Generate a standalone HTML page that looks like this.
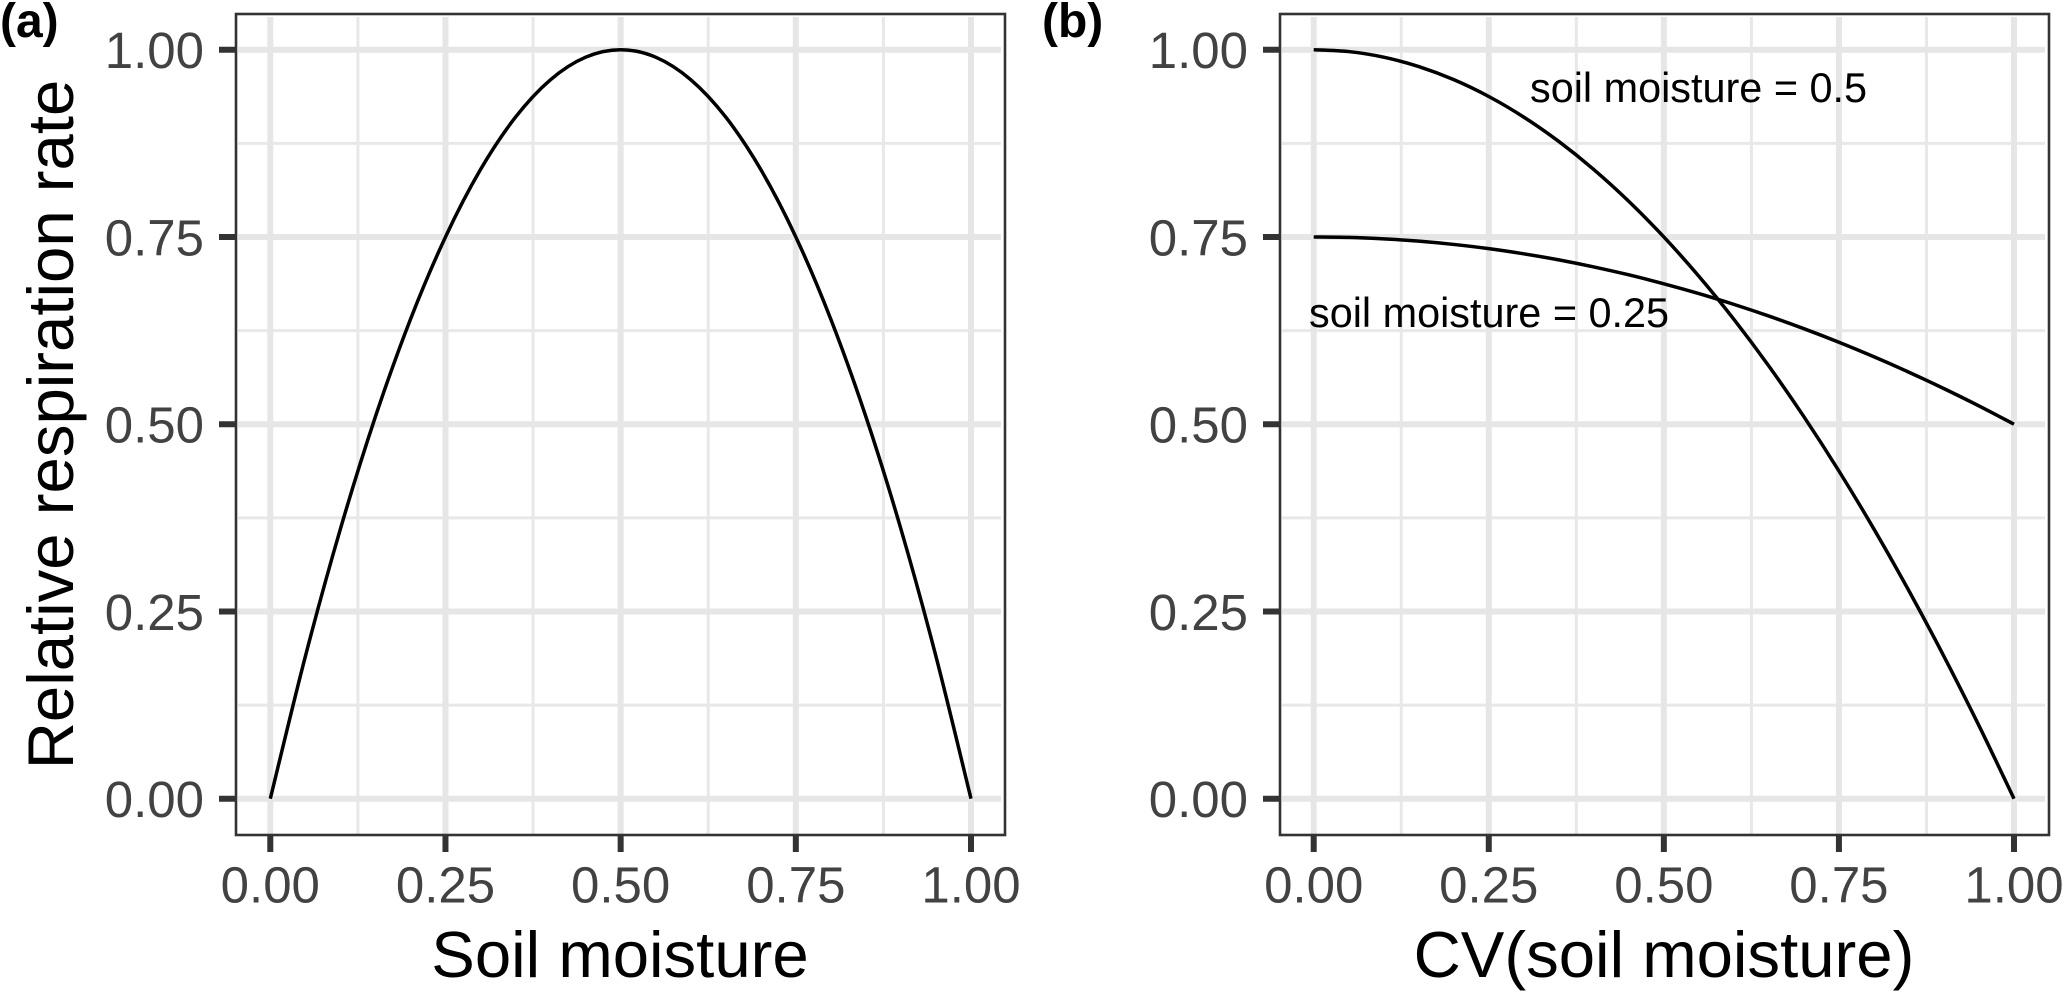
<!DOCTYPE html>
<html lang="en">
<head>
<meta charset="utf-8">
<title>Relative respiration rate</title>
<style>
html,body{margin:0;padding:0;background:#fff;width:2068px;height:996px;overflow:hidden}
svg{display:block;font-family:"Liberation Sans",Arial,sans-serif}
.tick-label{font-size:51px;fill:#424242}
.axis-title{font-size:65.3px;fill:#000}
.note{font-size:41.4px;fill:#000}
.tag{font-size:48px;font-weight:bold;fill:#000}
</style>
</head>
<body>
<svg id="chart" width="2068" height="996" viewBox="0 0 2068 996" xmlns="http://www.w3.org/2000/svg">
  <rect width="2068" height="996" fill="#ffffff"/>
  <g id="panel-a"></g>
  <g id="panel-b"></g>
  <text class="tag" x="0" y="37">(a)</text>
  <text class="tag" x="1042" y="37">(b)</text>
  <text class="axis-title" text-anchor="middle" transform="translate(73,424.5) rotate(-90)">Relative respiration rate</text>
  <text class="axis-title" text-anchor="middle" x="620" y="977">Soil moisture</text>
  <text class="axis-title" text-anchor="middle" x="1664" y="977">CV(soil moisture)</text>
  <text class="note" x="1530" y="102">soil moisture = 0.5</text>
  <text class="note" x="1309" y="327">soil moisture = 0.25</text>
</svg>
<script>
const xTicks = [0, 0.25, 0.5, 0.75, 1];
const yTicks = [0, 0.25, 0.5, 0.75, 1];
const xMinor = [0.125, 0.375, 0.625, 0.875];
const yMinor = [0.125, 0.375, 0.625, 0.875];
const tickLabels = ['0.00', '0.25', '0.50', '0.75', '1.00'];

const sampleX = [0, 0.05, 0.1, 0.15, 0.2, 0.25, 0.3, 0.35, 0.4, 0.45, 0.5, 0.55, 0.6, 0.65, 0.7, 0.75, 0.8, 0.85, 0.9, 0.95, 1];
const respirationVsMoisture = [0, 0.19, 0.36, 0.51, 0.64, 0.75, 0.84, 0.91, 0.96, 0.99, 1, 0.99, 0.96, 0.91, 0.84, 0.75, 0.64, 0.51, 0.36, 0.19, 0];
const respirationCvMoisture05 = [1, 0.9975, 0.99, 0.9775, 0.96, 0.9375, 0.91, 0.8775, 0.84, 0.7975, 0.75, 0.6975, 0.64, 0.5775, 0.51, 0.4375, 0.36, 0.2775, 0.19, 0.0975, 0];
const respirationCvMoisture025 = [0.75, 0.7494, 0.7475, 0.7444, 0.74, 0.7344, 0.7275, 0.7194, 0.71, 0.6994, 0.6875, 0.6744, 0.66, 0.6444, 0.6275, 0.6094, 0.59, 0.5694, 0.5475, 0.5244, 0.5];

const NS = 'http://www.w3.org/2000/svg';
const yScale = v => 798.7 - v * 749;
const panelTop = 14, panelBottom = 835;

function make(parent, tag, attrs) {
  const el = document.createElementNS(NS, tag);
  for (const k in attrs) el.setAttribute(k, attrs[k]);
  parent.appendChild(el);
  return el;
}

function smoothPath(xs, ys, xScale) {
  const p = xs.map((x, i) => [xScale(x), yScale(ys[i])]);
  let d = 'M' + p[0][0].toFixed(2) + ' ' + p[0][1].toFixed(2);
  for (let i = 0; i < p.length - 1; i++) {
    const a = p[Math.max(i - 1, 0)], b = p[i], c = p[i + 1], e = p[Math.min(i + 2, p.length - 1)];
    const c1x = b[0] + (c[0] - a[0]) / 6, c1y = b[1] + (c[1] - a[1]) / 6;
    const c2x = c[0] - (e[0] - b[0]) / 6, c2y = c[1] - (e[1] - b[1]) / 6;
    d += 'C' + c1x.toFixed(2) + ' ' + c1y.toFixed(2) + ' ' + c2x.toFixed(2) + ' ' + c2y.toFixed(2) + ' ' + c[0].toFixed(2) + ' ' + c[1].toFixed(2);
  }
  return d;
}

function drawPanel(group, left, right, x0, x1, seriesList) {
  const xScale = v => x0 + v * (x1 - x0);
  const gridL = left + 2, gridR = right - 4, gridT = panelTop + 3;

  yMinor.forEach(v => {
    const el = make(group, 'line', {x1: gridL, x2: gridR, y1: yScale(v), y2: yScale(v), stroke: '#e8e8e8', 'stroke-width': 3});
    
    
  });
  xMinor.forEach(v => {
    const el = make(group, 'line', {x1: xScale(v), x2: xScale(v), y1: gridT, y2: panelBottom, stroke: '#e8e8e8', 'stroke-width': 3});
    
    
  });
  yTicks.forEach(v => {
    const el = make(group, 'line', {x1: gridL, x2: gridR, y1: yScale(v), y2: yScale(v), stroke: '#e6e6e6', 'stroke-width': 6});
    
    
  });
  xTicks.forEach(v => {
    const el = make(group, 'line', {x1: xScale(v), x2: xScale(v), y1: gridT, y2: panelBottom, stroke: '#e6e6e6', 'stroke-width': 6});
    
    
  });

  seriesList.forEach(series => {
    const el = make(group, 'path', {d: smoothPath(sampleX, series.values, xScale), fill: 'none', stroke: '#000', 'stroke-width': 3.5});
    
    
  });

  const border = make(group, 'rect', {x: left, y: panelTop, width: right - left, height: panelBottom - panelTop, fill: 'none', stroke: '#333', 'stroke-width': 2.6});
  
  

  yTicks.forEach((v, i) => {
    const tick = make(group, 'line', {x1: left - 17, x2: left, y1: yScale(v), y2: yScale(v), stroke: '#333', 'stroke-width': 6});
    
    
    const label = make(group, 'text', {class: 'tick-label', x: left - 32, y: yScale(v) + 18.5, 'text-anchor': 'end'});
    label.textContent = tickLabels[i];
    
    
  });
  xTicks.forEach((v, i) => {
    const tick = make(group, 'line', {x1: xScale(v), x2: xScale(v), y1: panelBottom, y2: panelBottom + 17, stroke: '#333', 'stroke-width': 6});
    
    
    const label = make(group, 'text', {class: 'tick-label', x: xScale(v), y: 902.5, 'text-anchor': 'middle'});
    label.textContent = tickLabels[i];
    
    
  });
}

drawPanel(document.getElementById('panel-a'), 236, 1005, 270.3, 971, [
  {name: 'respiration-curve', values: respirationVsMoisture}
]);
drawPanel(document.getElementById('panel-b'), 1280, 2049, 1313.7, 2014, [
  {name: 'curve-soil-moisture-0-5', values: respirationCvMoisture05},
  {name: 'curve-soil-moisture-0-25', values: respirationCvMoisture025}
]);
</script>
</body>
</html>
